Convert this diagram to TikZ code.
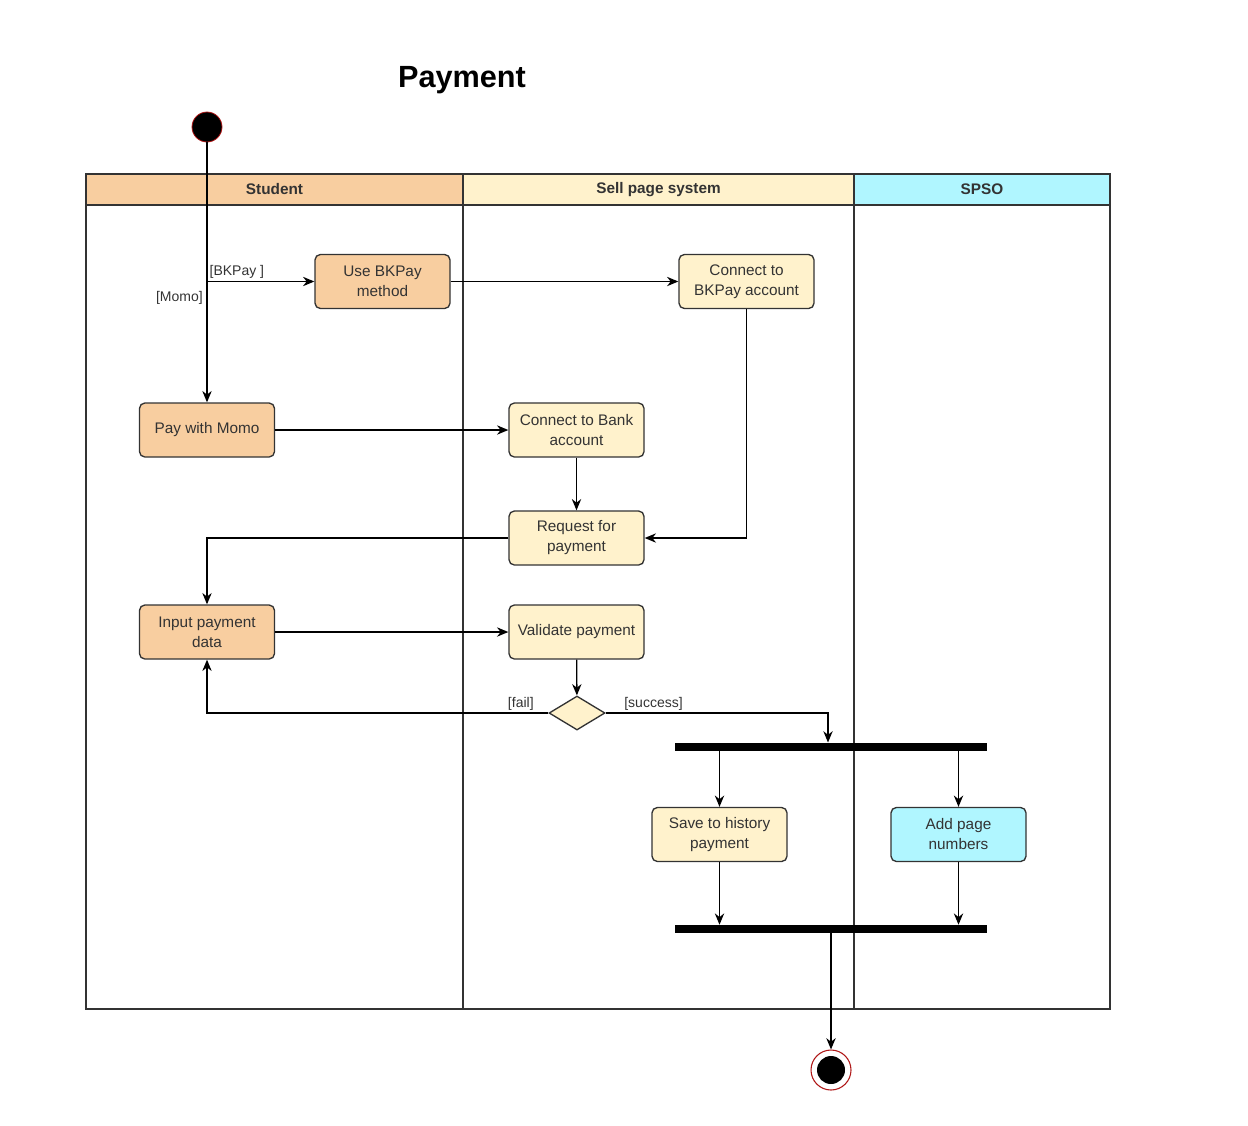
\documentclass[tikz,border=0pt]{standalone}
\usepackage{fontspec}
\setmainfont{Liberation Sans}
\usetikzlibrary{shapes.geometric,arrows.meta}
\definecolor{studentfill}{HTML}{F8CEA0}
\definecolor{sellfill}{HTML}{FFF2CC}
\definecolor{spsofill}{HTML}{B0F6FF}
\definecolor{ink}{HTML}{333333}
\definecolor{ring}{HTML}{B01818}
\begin{document}
\begin{tikzpicture}[x=0.75pt,y=-0.75pt,>={Stealth[length=8.5pt,width=7pt]},
    action/.style={draw=ink,line width=1pt,rounded corners=4pt,text=ink,
      font=\fontsize{11.5}{15}\selectfont,align=center,
      minimum width=101.25pt,minimum height=40.5pt,inner sep=1pt},
    lanehead/.style={draw=ink,line width=1pt,text=ink,
      font=\bfseries\fontsize{11.5}{13.5}\selectfont,
      minimum height=23.25pt,inner sep=0pt},
    guard/.style={text=ink,font=\fontsize{10.5}{12}\selectfont,inner sep=1.5pt},
    bar/.style={fill=black,minimum width=234pt,minimum height=6pt,inner sep=0pt},
    flow/.style={->,line width=1pt}]
        \useasboundingbox (0,0) rectangle (1248,1125);
        % title
        \node[font=\bfseries\fontsize{23}{26}\selectfont] (title) at (462,80) {Payment};
        % lanes
        \foreach \xa/\xb in {86/463,463/854,854/1110}
          \draw[draw=ink,line width=1pt] (\xa,205) rectangle (\xb,1009);
        \node[lanehead,fill=studentfill,minimum width=282.75pt] (student) at (274.5,189.5) {Student};
        \node[lanehead,fill=sellfill,minimum width=293.25pt] (sellpage) at (658.5,189.5) {Sell page system};
        \node[lanehead,fill=spsofill,minimum width=192pt] (spso) at (982,189.5) {SPSO};
        % start and end
        \node[circle,fill=black,draw=ring,line width=0.6pt,minimum size=22.5pt,inner sep=0pt] (start) at (207,127) {};
        \node[circle,fill=white,draw=ring,line width=0.8pt,minimum size=30pt,inner sep=0pt,
          path picture={\fill[black] (path picture bounding box.center) circle (10.5pt);}] (stop) at (831,1070) {};
        % actions
        \node[action,fill=studentfill] (bkpay) at (382.5,281.5) {Use BKPay\\method};
        \node[action,fill=sellfill] (bkacc) at (746.5,281.5) {Connect to\\BKPay account};
        \node[action,fill=studentfill] (momo) at (207,430) {Pay with Momo};
        \node[action,fill=sellfill] (bankacc) at (576.5,430) {Connect to Bank\\account};
        \node[action,fill=sellfill] (request) at (576.5,538) {Request for\\payment};
        \node[action,fill=studentfill] (input) at (207,632) {Input payment\\data};
        \node[action,fill=sellfill] (validate) at (576.5,632) {Validate payment};
        \node[diamond,draw=ink,fill=sellfill,line width=1pt,minimum width=42pt,minimum height=25.5pt,inner sep=0pt] (check) at (577,713) {};
        \node[bar] (fork) at (831,746.5) {};
        \node[action,fill=sellfill] (save) at (719.5,834.5) {Save to history\\payment};
        \node[action,fill=spsofill] (pages) at (958.5,834.5) {Add page\\numbers};
        \node[bar] (join) at (831,929) {};
        % flows
        \coordinate (split) at (207,281.5);
        \draw[flow] (start) -- (momo);
        \draw[flow] (split) -- node[guard,pos=0,anchor=south west] {[BKPay ]} (bkpay);
        \node[guard,anchor=east] (momolabel) at (205,298) {[Momo]};
        \draw[flow] (bkpay) -- (bkacc);
        \draw[flow] (bkacc) |- (request);
        \draw[flow] (momo) -- (bankacc);
        \draw[flow] (bankacc) -- (request);
        \draw[flow] (request) -| (input);
        \draw[flow] (input) -- (validate);
        \draw[flow] (validate) -- (check);
        \draw[flow] (check) -| node[guard,pos=0,anchor=south east,xshift=-9pt] {[fail]} (input);
        \coordinate (forkin) at (828,742.5);
        \draw[flow] (check) -| node[guard,pos=0,anchor=south west,xshift=12pt] {[success]} (forkin);
        \draw[flow] (save.north |- fork.south) -- (save);
        \draw[flow] (pages.north |- fork.south) -- (pages);
        \draw[flow] (save) -- (save.south |- join.north);
        \draw[flow] (pages) -- (pages.south |- join.north);
        \draw[flow] (join) -- (stop);
\end{tikzpicture}
\end{document}
